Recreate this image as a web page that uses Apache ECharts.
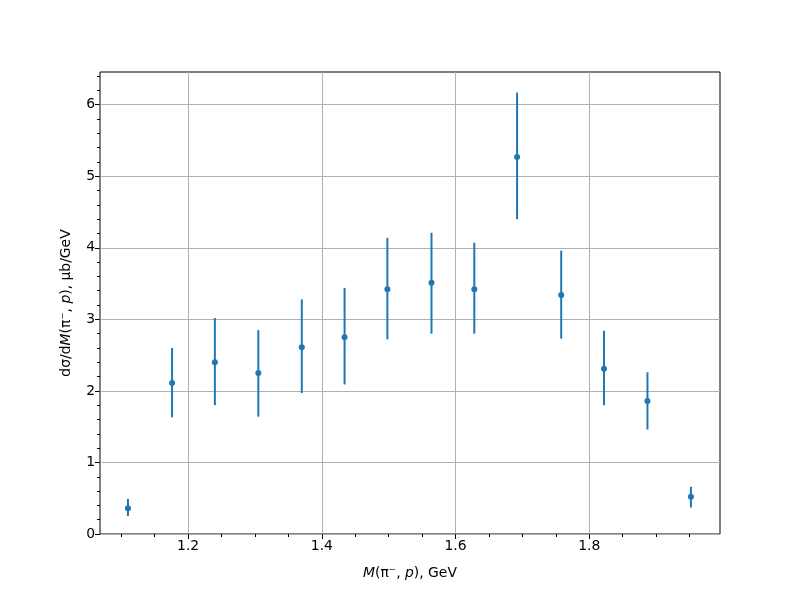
<!DOCTYPE html>
<html>
<head>
<meta charset="utf-8">
<script src="https://cdn.jsdelivr.net/npm/echarts@6/dist/echarts.min.js"></script>
<style>
  html, body { margin: 0; padding: 0; background: #fff; }
  #chart { width: 800px; height: 600px; }
</style>
</head>
<body>
<div id="chart"></div>
<script>
// invariant mass bins, GeV
const massValues = [1.110, 1.176, 1.240, 1.305, 1.370, 1.434, 1.498, 1.564, 1.628, 1.692, 1.758, 1.822, 1.887, 1.952];
// cross section, ub/GeV
const xsecValues = [0.36, 2.11, 2.40, 2.25, 2.61, 2.75, 3.42, 3.51, 3.42, 5.27, 3.34, 2.31, 1.86, 0.52];
const xsecLow = [0.25, 1.63, 1.80, 1.64, 1.97, 2.09, 2.72, 2.80, 2.80, 4.40, 2.73, 1.80, 1.46, 0.37];
const xsecHigh = [0.49, 2.60, 3.02, 2.85, 3.28, 3.44, 4.14, 4.21, 4.07, 6.17, 3.96, 2.84, 2.26, 0.66];

const xMajorTicks = [1.2, 1.4, 1.6, 1.8];
const xMinorTicks = [1.1, 1.15, 1.25, 1.3, 1.35, 1.45, 1.5, 1.55, 1.65, 1.7, 1.75, 1.85, 1.9, 1.95];
const yMajorTicks = [0, 1, 2, 3, 4, 5, 6];
const yMinorTicks = [0.2, 0.4, 0.6, 0.8, 1.2, 1.4, 1.6, 1.8, 2.2, 2.4, 2.6, 2.8, 3.2, 3.4, 3.6, 3.8,
  4.2, 4.4, 4.6, 4.8, 5.2, 5.4, 5.6, 5.8, 6.2, 6.4];

const xMin = 1.0682, xMax = 1.9955;
const yMin = 0, yMax = 6.457;

const FONT = "DejaVu Sans";
const BLUE = "#1f77b4";

const chart = echarts.init(document.getElementById("chart"), null, { renderer: "canvas" });

const majorAxisBase = {
  axisLine: { show: false },
  axisTick: { show: true, length: 5, lineStyle: { color: "#000", width: 1 } },
  splitLine: { show: true, lineStyle: { color: "#b0b0b0", width: 1 } },
  axisLabel: { color: "#000", fontFamily: FONT, fontSize: 13.9, margin: 5 }
};
const minorAxisBase = {
  axisLine: { show: false },
  axisTick: { show: true, length: 3, lineStyle: { color: "#000", width: 1 } },
  splitLine: { show: false },
  axisLabel: { show: false }
};

const errData = massValues.map((m, i) => [m, xsecLow[i], xsecHigh[i]]);
const pointData = massValues.map((m, i) => [m, xsecValues[i]]);

const option = {
  animation: false,
  backgroundColor: "#fff",
  grid: {
    left: 100, right: 80, top: 72, bottom: 66,
    show: true, borderColor: "#000", borderWidth: 1, backgroundColor: "transparent"
  },
  xAxis: [
    Object.assign({}, majorAxisBase, {
      type: "value", min: xMin, max: xMax, position: "bottom",
      axisTick: Object.assign({}, majorAxisBase.axisTick, { customValues: xMajorTicks }),
      axisLabel: Object.assign({}, majorAxisBase.axisLabel, {
        customValues: xMajorTicks,
        formatter: v => v.toFixed(1)
      }),
      name: "{i|M}(π⁻, {i|p}), GeV",
      nameLocation: "middle",
      nameGap: 32,
      nameTextStyle: {
        color: "#000", fontFamily: FONT, fontSize: 13.9,
        rich: { i: { fontStyle: "italic", fontFamily: FONT, fontSize: 13.9, color: "#000" } }
      }
    }),
    Object.assign({}, minorAxisBase, {
      type: "value", min: xMin, max: xMax, position: "bottom",
      axisTick: Object.assign({}, minorAxisBase.axisTick, { customValues: xMinorTicks })
    })
  ],
  yAxis: [
    Object.assign({}, majorAxisBase, {
      type: "value", min: yMin, max: yMax, position: "left",
      axisTick: Object.assign({}, majorAxisBase.axisTick, { customValues: yMajorTicks }),
      axisLabel: Object.assign({}, majorAxisBase.axisLabel, {
        customValues: yMajorTicks,
        formatter: v => String(v)
      }),
      name: "dσ/d{i|M}(π⁻, {i|p}), μb/GeV",
      nameLocation: "middle",
      nameGap: 27,
      nameRotate: 90,
      nameTextStyle: {
        color: "#000", fontFamily: FONT, fontSize: 13.9,
        rich: { i: { fontStyle: "italic", fontFamily: FONT, fontSize: 13.9, color: "#000" } }
      }
    }),
    Object.assign({}, minorAxisBase, {
      type: "value", min: yMin, max: yMax, position: "left",
      axisTick: Object.assign({}, minorAxisBase.axisTick, { customValues: yMinorTicks })
    })
  ],
  series: [
    {
      type: "custom",
      xAxisIndex: 0,
      yAxisIndex: 0,
      data: errData,
      renderItem: function (params, api) {
        const top = api.coord([api.value(0), api.value(2)]);
        const bot = api.coord([api.value(0), api.value(1)]);
        return {
          type: "line",
          shape: { x1: top[0], y1: top[1], x2: bot[0], y2: bot[1] },
          style: { stroke: BLUE, lineWidth: 2 }
        };
      },
      z: 3
    },
    {
      type: "scatter",
      xAxisIndex: 0,
      yAxisIndex: 0,
      data: pointData,
      symbol: "circle",
      symbolSize: 6,
      itemStyle: { color: BLUE, opacity: 1 },
      z: 4
    }
  ]
};

chart.setOption(option);
</script>
</body>
</html>
